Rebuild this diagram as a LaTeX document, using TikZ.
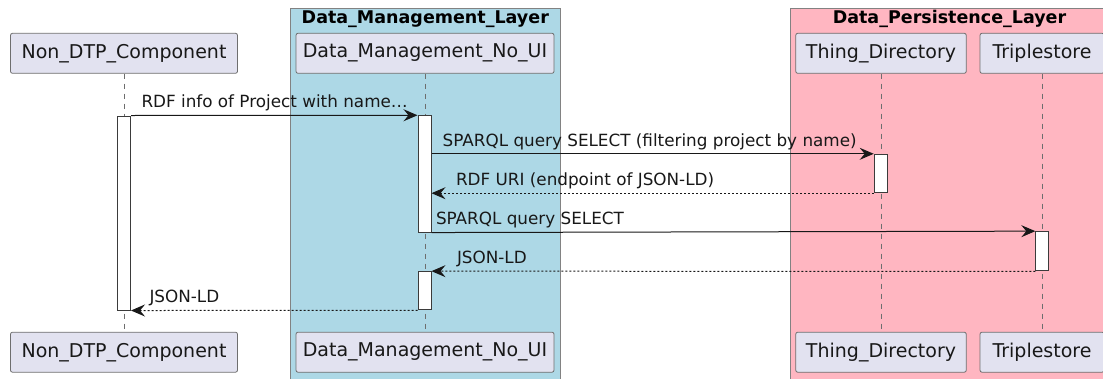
\documentclass[tikz,border=0pt]{standalone}
\usepackage{fontspec}
\setmainfont{DejaVu Sans}
\usepackage{tikz}
\usetikzlibrary{arrows.meta, positioning, calc}
\definecolor{partlavender}{RGB}{226, 226, 240}
\definecolor{darkline}{RGB}{24, 24, 24}
\definecolor{partedge}{RGB}{110, 110, 110}
\definecolor{lifegray}{RGB}{110, 110, 110}
\definecolor{layerblue}{RGB}{173, 216, 230}
\definecolor{layerpink}{RGB}{255, 182, 193}
\definecolor{layeredge}{RGB}{130, 130, 130}
\tikzset{
  >=Stealth,
  participant/.style={draw=partedge, fill=partlavender, rounded corners=2pt, line width=0.8pt, minimum height=40pt, inner sep=0pt, font=\fontsize{19}{22}\selectfont, text=darkline},
  actbar/.style={draw=darkline!85, fill=white, line width=1pt, minimum width=13pt, inner sep=0pt},
  lifeline/.style={lifegray, line width=0.8pt, dash pattern=on 5pt off 5pt},
  callarrow/.style={-{Stealth[length=14pt, width=12pt, inset=5pt]}, line width=1pt, darkline},
  replyarrow/.style={-{Stealth[length=14pt, width=12pt, inset=5pt]}, line width=1pt, darkline, dash pattern=on 2pt off 2pt},
  msgtext/.style={font=\fontsize{16.8}{20}\selectfont, inner sep=0pt, anchor=base west, yshift=7.7pt, text=darkline},
  layertitle/.style={font=\bfseries\fontsize{17.5}{20}\selectfont, inner sep=0pt}
}

\begin{document}
\begin{tikzpicture}[x=1pt, y=-1pt]
    \useasboundingbox (0, 0) rectangle (1103, 378);

    % layers
    \draw[layeredge, fill=layerblue, line width=1pt] (290.7, 8.3) rectangle (560, 390);
    \draw[layeredge, fill=layerpink, line width=1pt] (790, 8.3) rectangle (1109, 390);
    \node (mgmtlayer) [layertitle] at (425.3, 19) {Data\_Management\_Layer};
    \node (perslayer) [layertitle] at (949.5, 19) {Data\_Persistence\_Layer};

    % participants
    \node (ndtp) [participant, minimum width=227pt] at (124, 53.3) {Non\_DTP\_Component};
    \node (dmnoui) [participant, minimum width=258pt] at (425, 53.3) {Data\_Management\_No\_UI};
    \node (thingdir) [participant, minimum width=170.5pt] at (881, 53.3) {Thing\_Directory};
    \node (triple) [participant, minimum width=124pt] at (1042, 53.3) {Triplestore};
    \node (ndtpb) [participant, minimum width=227pt] at (124, 352.2) {Non\_DTP\_Component};
    \node (dmnouib) [participant, minimum width=258pt] at (425, 352.2) {Data\_Management\_No\_UI};
    \node (thingdirb) [participant, minimum width=170.5pt] at (881, 352.2) {Thing\_Directory};
    \node (tripleb) [participant, minimum width=124pt] at (1042, 352.2) {Triplestore};

    \draw[lifeline] (ndtp) -- (ndtpb);
    \draw[lifeline] (dmnoui) -- (dmnouib);
    \draw[lifeline] (thingdir) -- (thingdirb);
    \draw[lifeline] (triple) -- (tripleb);

    % activations
    \node (ndtpact) [actbar, minimum height=194pt] at (124, 213) {};
    \node (dmact) [actbar, minimum height=116.3pt] at (424.5, 173.9) {};
    \node (tdact) [actbar, minimum height=38.4pt] at (880.7, 173.5) {};
    \node (tsact) [actbar, minimum height=39.3pt] at (1042.3, 251.3) {};
    \node (dmact2) [actbar, minimum height=38.3pt] at (424.5, 290.8) {};

    % messages
    \draw[callarrow] (ndtpact.north east) -- node[msgtext, pos=0, xshift=10pt] {RDF info of Project with name…} (dmact.north west);
    \draw[callarrow] (dmact.east |- tdact.north west) -- node[msgtext, pos=0, xshift=10.7pt] {SPARQL query SELECT (filtering project by name)} (tdact.north west);
    \draw[replyarrow] (tdact.south west) -- node[msgtext, pos=1, xshift=24pt] {RDF URI (endpoint of JSON-LD)} (dmact.east |- tdact.south west);
    \draw[callarrow] (dmact.south east) -- node[msgtext, pos=0, xshift=4pt] {SPARQL query SELECT} (tsact.north west);
    \draw[replyarrow] (tsact.south west) -- node[msgtext, pos=1, xshift=25pt] {JSON-LD} (dmact2.north east);
    \draw[replyarrow] (dmact2.south west) -- node[msgtext, pos=1, xshift=18pt] {JSON-LD} (ndtpact.south east);
\end{tikzpicture}
\end{document}
